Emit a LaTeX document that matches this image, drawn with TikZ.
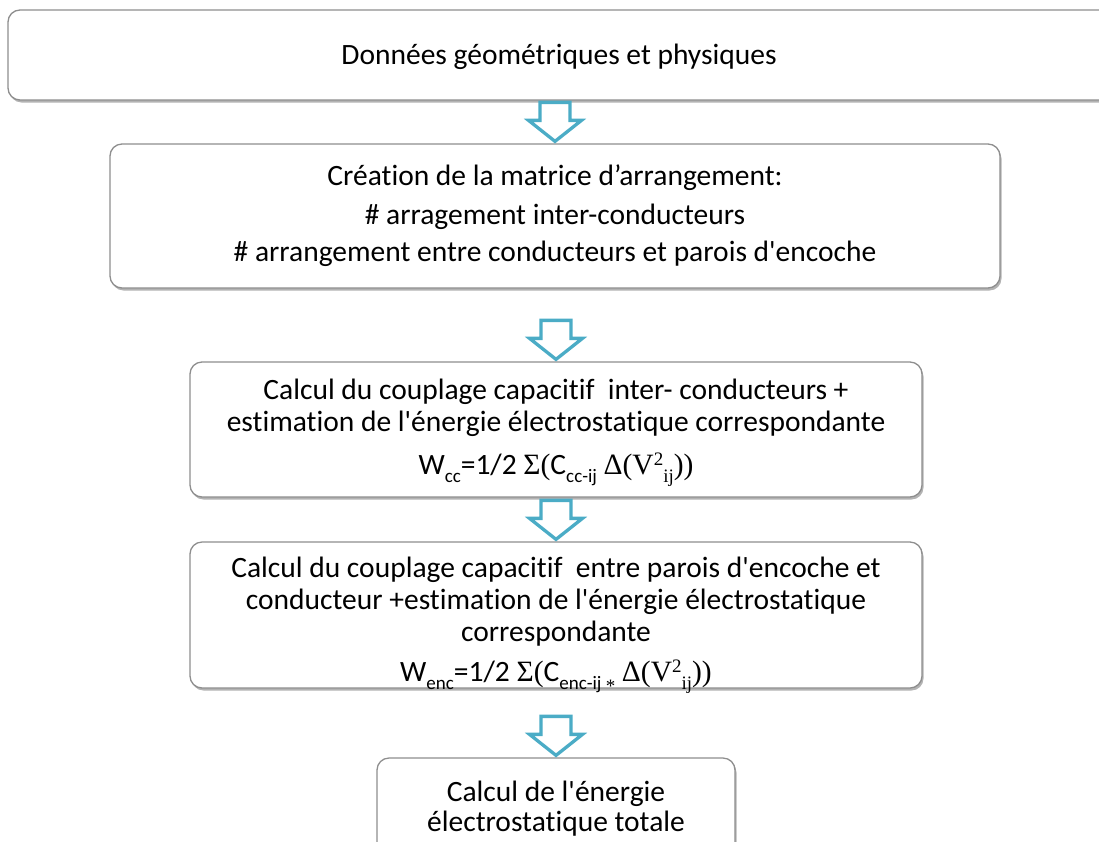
\documentclass[tikz,border=0pt]{standalone}
\usepackage{fontspec}
\setmainfont{Carlito}[Ligatures={TeXOff,NoCommon}]
\newfontfamily\tms{Liberation Serif}[Ligatures=TeXOff]
\usetikzlibrary{shadows,calc}
\definecolor{aqua}{HTML}{4BACC6}
\definecolor{bordc}{HTML}{8E8E8E}
\newcommand\dsub[1]{\raisebox{-0.3em}{\fontsize{19}{19}\selectfont #1}}
\newcommand\dsup[1]{\raisebox{0.3em}{\fontsize{19}{19}\selectfont #1}}
\newcommand\blockarrow[1]{%
  \draw[aro] ($(#1.north)+(0,-2)$) coordinate (#1tip)
    -- ++(-26.5,-21) -- ++(11.5,0) -- ++(0,-18) -- ++(30,0) -- ++(0,18) -- ++(11.5,0) -- cycle;}
\begin{document}
\begin{tikzpicture}[x=1pt,y=-1pt,
  box/.style={draw=bordc, line width=1.3pt, fill=white, rounded corners=12pt,
    drop shadow={shadow xshift=1.5pt, shadow yshift=-2.5pt, fill=black!50, opacity=0.6}, inner sep=0pt},
  txt/.style={font=\fontsize{29.5}{34}\selectfont, anchor=base, inner sep=0pt},
  aro/.style={draw=aqua, line width=3.3pt, fill=white, line join=miter}]
\useasboundingbox (0,0) rectangle (1099,841);

\node[box, minimum width=1104pt, minimum height=90pt] (b1) at (560,55) {};
\node[box, minimum width=890pt, minimum height=144pt] (b2) at (555,216) {};
\node[box, minimum width=732pt, minimum height=135pt] (b3) at (556,429.5) {};
\node[box, minimum width=732pt, minimum height=146pt] (b4) at (556,615) {};
\node[box, minimum width=358pt, minimum height=112pt] (b5) at (556,814) {};

\node[txt] (t1) at (559,64) {Données géométriques et physiques};

\node[txt] (t21) at (555,185) {Création de la matrice d’arrangement:};
\node[txt] (t22) at (555,224) {\# arragement inter-conducteurs};
\node[txt] (t23) at (555,261) {\# arrangement entre conducteurs et parois d'encoche};

\node[txt] (t31) at (556,399) {Calcul du couplage capacitif\ \ inter- conducteurs +};
\node[txt] (t32) at (556,431) {estimation de l'énergie électrostatique correspondante};
\node[txt] (t33) at (556,474) {W\dsub{cc}=1/2 {\tms Σ(}C\dsub{cc-ij} {\tms Δ(V\dsup{2}\dsub{ij}))}};

\node[txt] (t41) at (556,577) {Calcul du couplage capacitif\ \ entre parois d'encoche et};
\node[txt] (t42) at (556,609) {conducteur +estimation de l'énergie électrostatique};
\node[txt] (t43) at (556,641) {correspondante};
\node[txt] (t44) at (556,681) {W\dsub{enc}=1/2 {\tms Σ(}C\dsub{enc-ij {\tms\raisebox{-0.15em}{*}}} {\tms Δ(V\dsup{2}\dsub{ij}))}};

\node[txt] (t51) at (556,801) {Calcul de l'énergie};
\node[txt] (t52) at (556,831) {électrostatique totale};

\blockarrow{b2}
\blockarrow{b3}
\blockarrow{b4}
\blockarrow{b5}
\end{tikzpicture}
\end{document}
